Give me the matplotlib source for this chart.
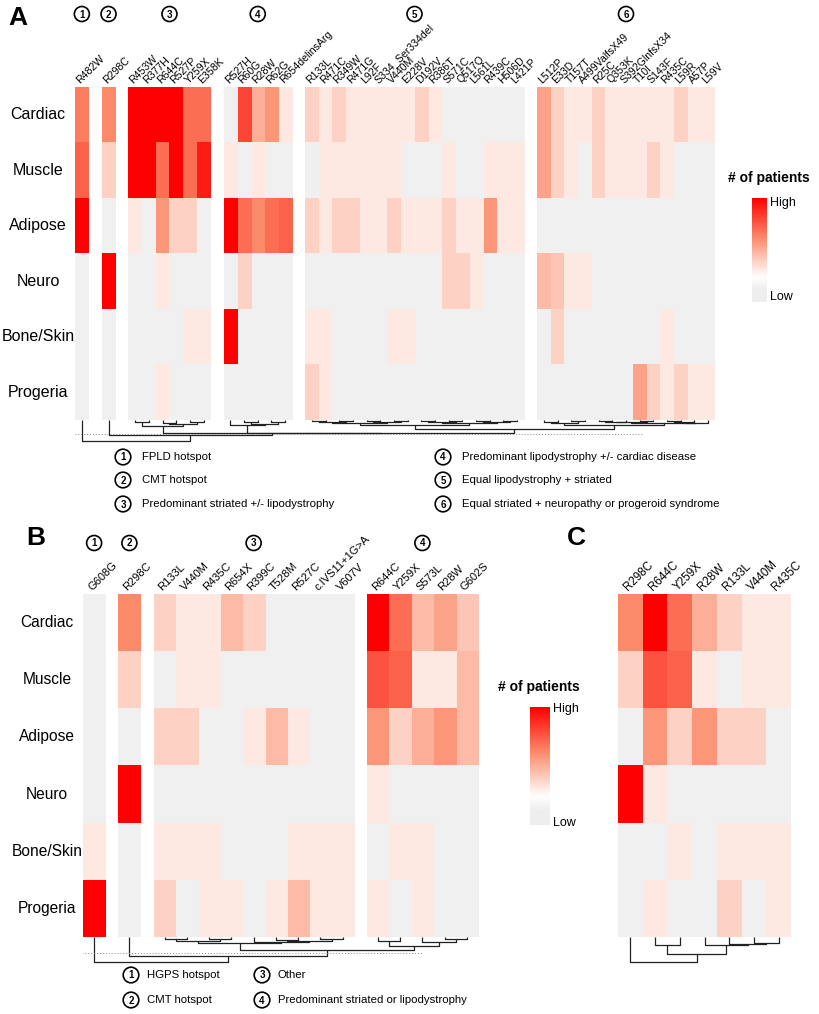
import matplotlib
matplotlib.use("Agg")
import matplotlib.pyplot as plt
import matplotlib.transforms as mtransforms
from matplotlib.colors import LinearSegmentedColormap, Normalize
from matplotlib.patches import Circle
import numpy as np

plt.rcParams["font.family"] = ["Liberation Sans", "DejaVu Sans"]

W, H = 819, 1014
ROWS = ["Cardiac", "Muscle", "Adipose", "Neuro", "Bone/Skin", "Progeria"]

# ---------------- panel A data ----------------
A_GROUPS = [
    ["R482W"],
    ["R298C"],
    ["R453W", "R377H", "R644C", "R527P", "Y259X", "E358K"],
    ["R527H", "R60G", "R28W", "R62G", "R654delinsArg"],
    ["R133L", "R471C", "R349W", "R471G", "L92F", "S334_Ser334del", "V440M", "E228V",
     "D192V", "R386T", "S571C", "Q517Q", "L561L", "R439C", "H506D", "L421P"],
    ["L512P", "E33D", "T157T", "A499ValfsX49", "R25C", "Q353K", "S392GlnfsX34",
     "T10I", "S143F", "R435C", "L59R", "A57P", "L59V"],
]
# relative number of patients (0 = none), columns in the order above
A_VALUES = {
    "Cardiac":   [5.5, 5, 10, 10, 10, 10, 6, 6, 0, 7.5, 3.5, 4.5, 1,
                  2, 1, 2, 1, 1, 1, 1, 1, 2, 1, 0, 0, 0, 0, 0, 0,
                  4, 2, 1, 1, 2, 1, 1, 1, 1, 1, 2, 1, 1],
    "Muscle":    [6.5, 2, 10, 10, 6, 10, 6, 9, 1, 0, 1, 0, 0,
                  0, 1, 1, 1, 1, 1, 1, 0, 0, 0, 1, 0, 0, 1, 1, 1,
                  4, 2, 1, 0, 2, 1, 1, 1, 2, 1, 0, 0, 0],
    "Adipose":   [10, 0, 1, 0, 4.5, 2, 2, 0, 10, 6, 5, 6, 6.5,
                  2, 1, 2, 2, 1, 1, 2, 1, 1, 1, 2, 1, 1, 4.5, 1, 1,
                  0, 0, 0, 0, 0, 0, 0, 0, 0, 0, 0, 0, 0],
    "Neuro":     [0, 10, 0, 0, 1, 0, 0, 0, 0, 2, 0, 0, 0,
                  0, 0, 0, 0, 0, 0, 0, 0, 0, 0, 2, 2, 1, 0, 0, 0,
                  3, 2.5, 1, 1, 0, 0, 0, 0, 0, 0, 0, 0, 0],
    "Bone/Skin": [0, 0, 0, 0, 0, 0, 1, 1, 10, 0, 0, 0, 0,
                  1, 1, 0, 0, 0, 0, 1, 1, 0, 0, 0, 0, 0, 0, 0, 0,
                  0, 2, 0, 0, 0, 0, 0, 0, 0, 1, 0, 0, 0],
    "Progeria":  [0, 0, 0, 0, 1, 0, 0, 0, 0, 0, 0, 0, 0,
                  2, 1, 0, 0, 0, 0, 0, 0, 0, 0, 0, 0, 0, 0, 0, 0,
                  0, 0, 0, 0, 0, 0, 0, 4, 2, 1, 2, 1, 1],
}
# column clustering: (left, right, height) with leaf column indices
A_G3 = ((2, 3, 1.7), ((4, 5, 2.5), (6, 7, 2.0), 3.5), 5.5)
A_G4 = (8, ((9, 10, 2.0), (11, 12, 1.5), 3.5), 5.0)
A_G5 = ((((13, 14, 1.0), (15, 16, 1.3), 2.2), ((17, 18, 0.8), (19, 20, 1.0), 1.6), 3.0),
        (((21, 22, 0.8), (23, 24, 1.0), 1.8), ((25, 26, 1.2), (27, 28, 0.9), 2.0), 3.2), 4.5)
A_G6 = (((29, 30, 1.5), (31, 32, 1.0), 2.5),
        ((((33, 34, 0.8), 35, 1.5), (36, 37, 1.0), 2.4), (((38, 39, 1.2), 40, 2.0), 41, 2.8), 3.3), 4.5)
A_TREE = (0, (1, (A_G3, (A_G4, (A_G5, A_G6, 9.0), 12.5), 13.3), 15.0), 21.0)
A_LEGEND = ["FPLD hotspot", "CMT hotspot", "Predominant striated +/- lipodystrophy",
            "Predominant lipodystrophy +/- cardiac disease", "Equal lipodystrophy + striated",
            "Equal striated + neuropathy or progeroid syndrome"]

# ---------------- panel B data ----------------
B_GROUPS = [
    ["G608G"],
    ["R298C"],
    ["R133L", "V440M", "R435C", "R654X", "R399C", "T528M", "R527C", "c.IVS11+1G>A", "V607V"],
    ["R644C", "Y259X", "S573L", "R28W", "G602S"],
]
B_VALUES = {
    "Cardiac":   [0, 5, 2, 1, 1, 3, 2, 0, 0, 0, 0, 10, 6, 3, 4, 2.5],
    "Muscle":    [0, 2, 0, 1, 1, 0, 0, 0, 0, 0, 0, 7, 6.5, 1, 1, 3],
    "Adipose":   [0, 0, 2, 2, 0, 0, 1, 3, 1, 0, 0, 4.5, 2, 3.5, 4.5, 3],
    "Neuro":     [0, 10, 0, 0, 0, 0, 0, 0, 0, 0, 0, 1, 0, 0, 0, 0],
    "Bone/Skin": [1, 0, 1, 1, 1, 0, 0, 0, 1, 1, 1, 0, 1, 1, 0, 0],
    "Progeria":  [10, 0, 2, 0, 1, 1, 0, 1, 3, 1, 1, 1, 0, 1, 0, 0],
}
B_G3 = (((2, 3, 2.0), (4, 5, 2.0), 4.0), (6, ((7, 8, 3.0), (9, 10, 1.5), 4.0), 5.0), 6.0)
B_G4 = ((11, 12, 4.0), (13, (14, 15, 2.0), 5.0), 9.0)
B_TREE = (0, (1, (B_G3, B_G4, 12.7), 19.0), 25.0)
B_LEGEND = ["HGPS hotspot", "CMT hotspot", "Other", "Predominant striated or lipodystrophy"]

# ---------------- panel C data ----------------
C_COLS = ["R298C", "R644C", "Y259X", "R28W", "R133L", "V440M", "R435C"]
C_VALUES = {
    "Cardiac":   [5, 10, 6, 3.5, 2, 1, 1],
    "Muscle":    [2, 7, 6.5, 1, 0, 1, 1],
    "Adipose":   [0, 4.5, 2, 4.5, 2, 2, 0],
    "Neuro":     [10, 1, 0, 0, 0, 0, 0],
    "Bone/Skin": [0, 0, 1, 0, 1, 1, 1],
    "Progeria":  [0, 1, 0, 0, 2, 0, 1],
}
C_TREE = (0, ((1, 2, 8.3), (3, (4, (5, 6, 5.5), 6.5), 8.3), 16.7), 25.0)

# ---------------- colours ----------------
CMAP = LinearSegmentedColormap.from_list("pat", ["#ffffff", "#fb8a6a", "#ff0000"])
CMAP.set_under("#f0f0f0")
NORM = Normalize(vmin=0.05, vmax=10)
BAR_CMAP = LinearSegmentedColormap.from_list(
    "bar", [(0, "#eeeeee"), (0.12, "#eeeeee"), (0.24, "#ffffff"), (0.62, "#fb8a6a"), (1, "#ff0000")])
LINE = "#222222"

fig = plt.figure(figsize=(W / 100, H / 100), dpi=100)


def px_axes(x0, y0, x1, y1):
    return fig.add_axes([x0 / W, 1 - y1 / H, (x1 - x0) / W, (y1 - y0) / H])


def heatmap(box, groups, values, gap, label_size):
    ax = px_axes(*box)
    mat = np.array([values[r] for r in ROWS], dtype=float)
    lefts, pos, start = [], 0.0, 0
    for g in groups:
        n = len(g)
        ax.imshow(mat[:, start:start + n], cmap=CMAP, norm=NORM, aspect="auto",
                  interpolation="nearest", extent=(pos, pos + n, len(ROWS), 0))
        lefts.extend(pos + np.arange(n))
        pos += n + gap
        start += n
    ax.set_xlim(0, pos - gap)
    ax.set_ylim(len(ROWS), 0)
    ax.axis("off")
    centers = np.array(lefts) + 0.5
    off = mtransforms.offset_copy(ax.transData, fig=fig, x=-1, y=3, units="dots")
    labels = [c for g in groups for c in g]
    for x, lab in zip(centers, labels):
        ax.text(x - 0.05, 0, lab, rotation=45, rotation_mode="anchor", ha="left",
                va="baseline", fontsize=label_size, transform=off)
    gcenters, start = [], 0
    for g in groups:
        gcenters.append(centers[start:start + len(g)].mean())
        start += len(g)
    return ax, centers, gcenters


def dendro(ax, node, xc):
    if isinstance(node, int):
        return xc[node], 0.0
    left, right, h = node
    xl, hl = dendro(ax, left, xc)
    xr, hr = dendro(ax, right, xc)
    ax.plot([xl, xl, xr, xr], [hl, h, h, hr], color=LINE, lw=0.9, solid_capstyle="butt")
    return (xl + xr) / 2, h


def tree_axes(hax, box, tree, xc, dot_h, dot_x):
    ax = px_axes(*box)
    dendro(ax, tree, xc)
    ax.plot(dot_x, [dot_h, dot_h], ls=(0, (1, 2)), color="#888888", lw=0.7)
    ax.set_xlim(hax.get_xlim())
    ax.set_ylim(box[3] - box[1], 0)
    ax.axis("off")


def to_px(box, ax, x):
    x0, x1 = ax.get_xlim()
    return box[0] + (x - x0) / (x1 - x0) * (box[2] - box[0])


# ---------------- panel A ----------------
A_BOX = (75, 87, 715, 420)
axA, xcA, gcA = heatmap(A_BOX, A_GROUPS, A_VALUES, 0.95, 7.6)
tree_axes(axA, (75, 420, 715, 445), A_TREE, xcA, 14.0, [-0.2, 41.4])

# ---------------- panel B ----------------
B_BOX = (83, 594, 478, 937)
axB, xcB, gcB = heatmap(B_BOX, B_GROUPS, B_VALUES, 0.585, 8.0)
tree_axes(axB, (83, 937, 478, 965), B_TREE, xcB, 16.3, [-0.05, 15.3])

# ---------------- panel C ----------------
C_BOX = (618, 594, 791, 937)
axC, xcC, _ = heatmap(C_BOX, [C_COLS], C_VALUES, 0, 8.4)
tree_axes(axC, (618, 937, 791, 965), C_TREE, xcC, -5, [0, 0])


# ---------------- colour bars ----------------
def colorbar(box):
    ax = px_axes(*box)
    ax.imshow(np.linspace(1, 0, 200)[:, None], cmap=BAR_CMAP, aspect="auto",
              extent=(0, 1, 0, 1))
    ax.axis("off")


colorbar((752, 198, 767, 302))
colorbar((530, 707, 550, 825))

# ---------------- overlay text ----------------
ov = fig.add_axes([0, 0, 1, 1])
ov.set_xlim(0, W)
ov.set_ylim(H, 0)
ov.axis("off")


def circled(x, y, num, r=7.5):
    ov.add_patch(Circle((x, y), r, facecolor="white", edgecolor="black", lw=1.2))
    ov.text(x, y + 0.5, str(num), ha="center", va="center", fontsize=7, fontweight="bold")


for panel_box, ax, rows_x, size in [(A_BOX, axA, 38, 11.5), (B_BOX, axB, 47, 11.2)]:
    rh = (panel_box[3] - panel_box[1]) / len(ROWS)
    for i, r in enumerate(ROWS):
        ov.text(rows_x, panel_box[1] + (i + 0.5) * rh, r, ha="center", va="center", fontsize=size)

for i, gx in enumerate(gcA):
    circled(to_px(A_BOX, axA, gx), 14, i + 1)
for i, gx in enumerate(gcB):
    circled(to_px(B_BOX, axB, gx), 543, i + 1)

ov.text(8, 18, "A", fontsize=19, fontweight="bold", va="center")
ov.text(26, 538, "B", fontsize=19, fontweight="bold", va="center")
ov.text(567, 538, "C", fontsize=19, fontweight="bold", va="center")

for i, txt in enumerate(A_LEGEND):
    cx = 123 if i < 3 else 443
    cy = [457, 480, 504][i % 3]
    circled(cx, cy, i + 1, r=7.8)
    ov.text(cx + 19, cy, txt, ha="left", va="center", fontsize=8.2)

for i, txt in enumerate(B_LEGEND):
    cx = 131 if i < 2 else 262
    cy = [975, 1000][i % 2]
    circled(cx, cy, i + 1, r=7.8)
    ov.text(cx + 16, cy, txt, ha="left", va="center", fontsize=8.2)

for tx, ty, bx, btop, bbot in [(728, 178, 770, 203, 297), (498, 687, 553, 709, 823)]:
    ov.text(tx, ty, "# of patients", ha="left", va="center", fontsize=10, fontweight="bold")
    ov.text(bx, btop, "High", ha="left", va="center", fontsize=9)
    ov.text(bx, bbot, "Low", ha="left", va="center", fontsize=9)

fig.savefig("out.png", dpi=100)
